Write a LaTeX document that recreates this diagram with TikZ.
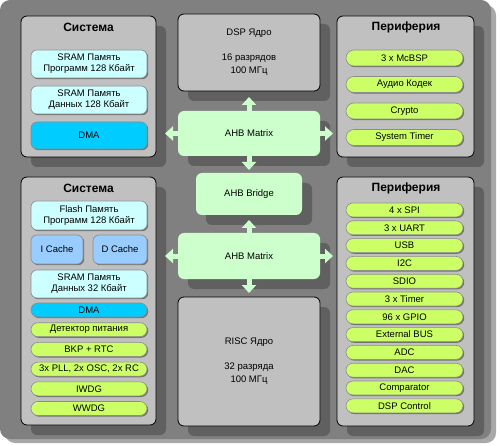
\documentclass[tikz,border=0pt]{standalone}
\usepackage{fontspec}
\setmainfont{Liberation Sans}
\usetikzlibrary{shadows,arrows.meta}
\definecolor{bggray}{HTML}{808080}
\definecolor{halogray}{HTML}{A8A8A8}
\definecolor{shadowgray}{HTML}{606060}
\definecolor{boxgray}{HTML}{C0C0C0}
\definecolor{memcyan}{HTML}{CCFFFF}
\definecolor{cacheblue}{HTML}{99CCFF}
\definecolor{dmablue}{HTML}{00CCFF}
\definecolor{pillgreen}{HTML}{CCFF66}
\definecolor{ahbgreen}{HTML}{CCFFCC}
\begin{document}
\begin{tikzpicture}[x=1pt,y=-1pt,
  every node/.style={inner sep=0pt, outer sep=0pt, anchor=north west, align=center,
    font=\fontsize{9.5}{11}\selectfont},
  bigbox/.style={draw=black, line width=0.8pt, fill=boxgray, rounded corners=6pt,
    general shadow={fill=shadowgray, shadow xshift=10pt, shadow yshift=-10pt}},
  ahbbox/.style={fill=ahbgreen, rounded corners=6pt,
    general shadow={fill=shadowgray, shadow xshift=10pt, shadow yshift=-10pt}},
  titletext/.style={anchor=center, font=\fontsize{12}{14}\bfseries\selectfont},
  corebox/.style={bigbox, font=\fontsize{9.5}{13}\selectfont},
  mem/.style={draw=black!45, line width=0.6pt, rounded corners=6pt,
    general shadow={fill=black!55, shadow xshift=1.2pt, shadow yshift=-1.2pt}},
  cyanmem/.style={mem, fill=memcyan, minimum width=116pt},
  cachemem/.style={mem, fill=cacheblue, minimum height=29pt},
  dmamem/.style={mem, fill=dmablue, minimum width=116pt},
  pill/.style={mem, fill=pillgreen, rounded corners=7pt, minimum height=14pt},
  pillA/.style={pill, minimum width=116pt},
  pillB/.style={pill, minimum width=117pt},
  ahbarrow/.style={draw=ahbgreen, line width=5pt, -{Triangle[width=14pt,length=8pt]}}
]
\useasboundingbox (0,0) rectangle (500,446);
% background
\fill[halogray, rounded corners=10pt] (5,5) rectangle (496,443);
\fill[bggray, rounded corners=10pt] (0,0) rectangle (491,439);

% top left system
\node[bigbox, minimum width=135pt, minimum height=141pt] (sys1) at (21,16) {};
\node[titletext] (sys1t) at (88.5,27) {Система};
\node[cyanmem, minimum height=28pt] (sramp) at (31,50) {SRAM Память\\Программ 128 Кбайт};
\node[cyanmem, minimum height=28pt] (sramd) at (31,86) {SRAM Память\\Данных 128 Кбайт};
\node[dmamem, minimum height=27pt] (dma1) at (31,122) {DMA};

% DSP core
\node[corebox, minimum width=142pt, minimum height=77pt] (dsp) at (178,14) {DSP Ядро\\[12pt]16 разрядов\\100 МГц};

% top right periphery
\node[bigbox, minimum width=137pt, minimum height=141pt] (per1) at (337,16) {};
\node[titletext] (per1t) at (406,27) {Периферия};
\node[pillB, minimum height=16pt, rounded corners=8pt] (mcbsp) at (346,50) {3 x McBSP};
\node[pillB, minimum height=16pt, rounded corners=8pt] (codec) at (346,76.5) {Аудио Кодек};
\node[pillB, minimum height=16pt, rounded corners=8pt] (crypto) at (346,103) {Crypto};
\node[pillB, minimum height=16pt, rounded corners=8pt] (systimer) at (346,129.5) {System Timer};

% AHB
\node[ahbbox, minimum width=142pt, minimum height=45pt] (matrix1) at (178,111) {AHB Matrix};
\node[ahbbox, minimum width=106pt, minimum height=42pt] (bridge) at (196,173) {AHB Bridge};
\node[ahbbox, minimum width=142pt, minimum height=46pt] (matrix2) at (178,233) {AHB Matrix};

% RISC core
\node[corebox, minimum width=142pt, minimum height=129pt] (risc) at (178,297) {RISC Ядро\\[12pt]32 разряда\\100 МГц};

% bottom left system
\node[bigbox, minimum width=135pt, minimum height=248pt] (sys2) at (21,177) {};
\node[titletext] (sys2t) at (88.5,188) {Система};
\node[cyanmem, minimum height=29pt] (flash) at (31,201) {Flash Память\\Программ 128 Кбайт};
\node[cachemem, minimum width=52pt] (icache) at (31,235) {I Cache};
\node[cachemem, minimum width=54pt] (dcache) at (93,235) {D Cache};
\node[cyanmem, minimum height=28pt] (sram32) at (31,270) {SRAM Память\\Данных 32 Кбайт};
\node[dmamem, minimum height=14pt, rounded corners=7pt] (dma2) at (31,303) {DMA};
\node[pillA] (det) at (31,322.7) {Детектор питания};
\node[pillA] (bkp) at (31,342.4) {BKP + RTC};
\node[pillA] (pll) at (31,362.1) {3x PLL, 2x OSC, 2x RC};
\node[pillA] (iwdg) at (31,381.8) {IWDG};
\node[pillA] (wwdg) at (31,401.5) {WWDG};

% bottom right periphery
\node[bigbox, minimum width=137pt, minimum height=249pt] (per2) at (337,177) {};
\node[titletext] (per2t) at (406,188) {Периферия};
\node[pillB] (spi) at (346,203) {4 x SPI};
\node[pillB] (uart) at (346,220.8) {3 x UART};
\node[pillB] (usb) at (346,238.6) {USB};
\node[pillB] (i2c) at (346,256.4) {I2C};
\node[pillB] (sdio) at (346,274.2) {SDIO};
\node[pillB] (timer) at (346,292) {3 x Timer};
\node[pillB] (gpio) at (346,309.8) {96 x GPIO};
\node[pillB] (extbus) at (346,327.6) {External BUS};
\node[pillB] (adc) at (346,345.4) {ADC};
\node[pillB] (dac) at (346,363.2) {DAC};
\node[pillB] (comp) at (346,381) {Comparator};
\node[pillB] (dspctl) at (346,398.8) {DSP Control};

% arrows
\draw[ahbarrow, shorten >=6pt] (matrix1.north) -- (dsp.south);
\draw[ahbarrow, shorten >=3pt] (matrix1.south) -- (bridge.north);
\draw[ahbarrow, shorten >=5pt] (matrix2.north) -- (bridge.south);
\draw[ahbarrow, shorten >=4pt] (matrix2.south) -- (risc.north);
\draw[ahbarrow, shorten >=9pt] (matrix1.west) -- (matrix1.west -| sys1.east);
\draw[ahbarrow, shorten >=4pt] (matrix1.east) -- (matrix1.east -| per1.west);
\draw[ahbarrow, shorten >=9pt] (matrix2.west) -- (matrix2.west -| sys2.east);
\draw[ahbarrow, shorten >=4pt] (matrix2.east) -- (matrix2.east -| per2.west);
\end{tikzpicture}
\end{document}
